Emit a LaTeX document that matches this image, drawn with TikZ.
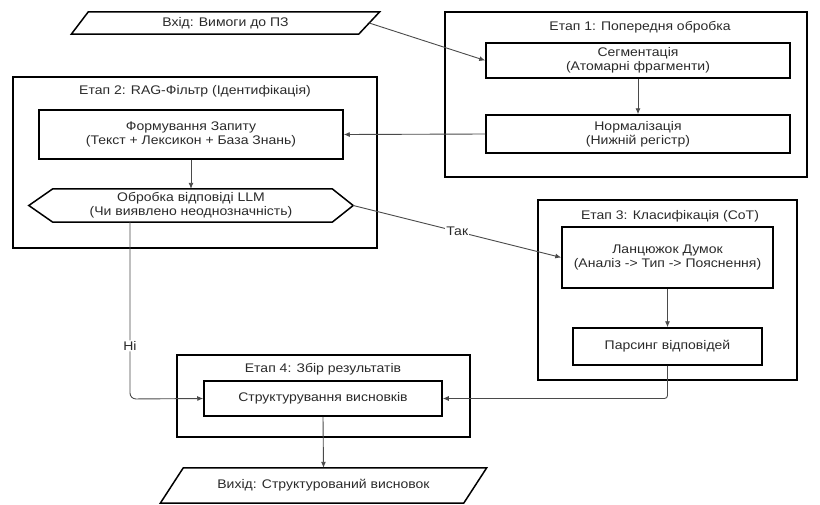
\documentclass[tikz,border=0pt]{standalone}
\usepackage{fontspec}
\setmainfont{Liberation Sans}[FakeStretch=1.12]
\usetikzlibrary{arrows.meta}
\definecolor{ink}{HTML}{2A2A2A}
\definecolor{wire}{HTML}{4A4A4A}
\begin{document}
\begin{tikzpicture}[x=1pt,y=-1pt,
  every node/.style={font=\fontsize{12.5}{14}\selectfont, text=ink, align=center},
  stagebox/.style={draw=black, line width=1.7pt, inner sep=0pt},
  procbox/.style={draw=black, line width=1.5pt, inner sep=0pt},
  shapeline/.style={draw=black, line width=1.5pt, line join=miter},
  plain/.style={inner sep=0pt},
  flow/.style={draw=wire, line width=0.9pt, -{Latex[length=6pt,width=5pt]}},
  tag/.style={fill=white, inner sep=1pt}]
\useasboundingbox (0,0) rectangle (820,504);

% Stage 1: preprocessing
\node[stagebox, minimum width=362, minimum height=165] (s1) at (626,94.5) {};
\node[plain] (t1) at (640,27) {Етап 1: Попередня обробка};
\node[procbox, minimum width=304, minimum height=35] (seg) at (638,60.5)
  {Сегментація\\(Атомарні фрагменти)};
\node[procbox, minimum width=304, minimum height=38] (norm) at (638,134)
  {Нормалізація\\(Нижній регістр)};

% Stage 2: RAG filter
\node[stagebox, minimum width=364, minimum height=171] (s2) at (195,162.5) {};
\node[plain] (t2) at (195,91) {Етап 2: RAG-Фільтр (Ідентифікація)};
\node[procbox, minimum width=304, minimum height=49] (form) at (191,134.5)
  {Формування Запиту\\(Текст + Лексикон + База Знань)};
\node[plain, minimum width=324, minimum height=33] (hx) at (191,205.5)
  {Обробка відповіді LLM\\(Чи виявлено неоднозначність)};
\draw[shapeline] (hx.west) -- ([xshift=24]hx.north west) -- ([xshift=-21]hx.north east)
  -- (hx.east) -- ([xshift=-21]hx.south east) -- ([xshift=24]hx.south west) -- cycle;

% Stage 3: classification
\node[stagebox, minimum width=259, minimum height=180] (s3) at (667.5,290) {};
\node[plain] (t3) at (670,216) {Етап 3: Класифікація (CoT)};
\node[procbox, minimum width=211, minimum height=61] (lanc) at (667.5,257.5)
  {Ланцюжок Думок\\(Аналіз -> Тип -> Пояснення)};
\node[procbox, minimum width=189, minimum height=37] (parse) at (667.5,346.5)
  {Парсинг відповідей};

% Stage 4: collecting results
\node[stagebox, minimum width=293, minimum height=82] (s4) at (323.5,396) {};
\node[plain] (t4) at (323,369) {Етап 4: Збір результатів};
\node[procbox, minimum width=238, minimum height=35] (struct) at (323,398.5)
  {Структурування висновків};

% Input and output
\node[plain, minimum width=308, minimum height=22] (in) at (225.5,23) {Вхід: Вимоги до ПЗ};
\draw[shapeline] ([xshift=17]in.north west) -- (in.north east)
  -- ([xshift=-21]in.south east) -- (in.south west) -- cycle;
\coordinate (inR) at ([xshift=-10.5]in.east);
\node[plain, minimum width=326, minimum height=35] (out) at (323.5,485.5)
  {Вихід: Структурований висновок};
\draw[shapeline] ([xshift=23]out.north west) -- (out.north east)
  -- ([xshift=-23]out.south east) -- (out.south west) -- cycle;

% Connectors
\draw[flow] (inR) -- (seg.west);
\draw[flow] (seg.south) -- (norm.north);
\draw[flow] (norm.west) -- (form.east);
\draw[flow] (form.south) -- (hx.north);
\draw[flow] (hx.east) -- node[tag, pos=0.5] {Так} (lanc.west);
\coordinate (noTurn) at (130,399);
\draw[flow, rounded corners=6] (hx.south -| noTurn) -- node[tag, pos=0.7] {Ні} (noTurn) -- (struct.west);
\draw[flow] (lanc.south) -- (parse.north);
\draw[flow, rounded corners=3] (parse.south) |- (struct.east);
\draw[flow] (struct.south) -- (out.north);
\end{tikzpicture}
\end{document}
